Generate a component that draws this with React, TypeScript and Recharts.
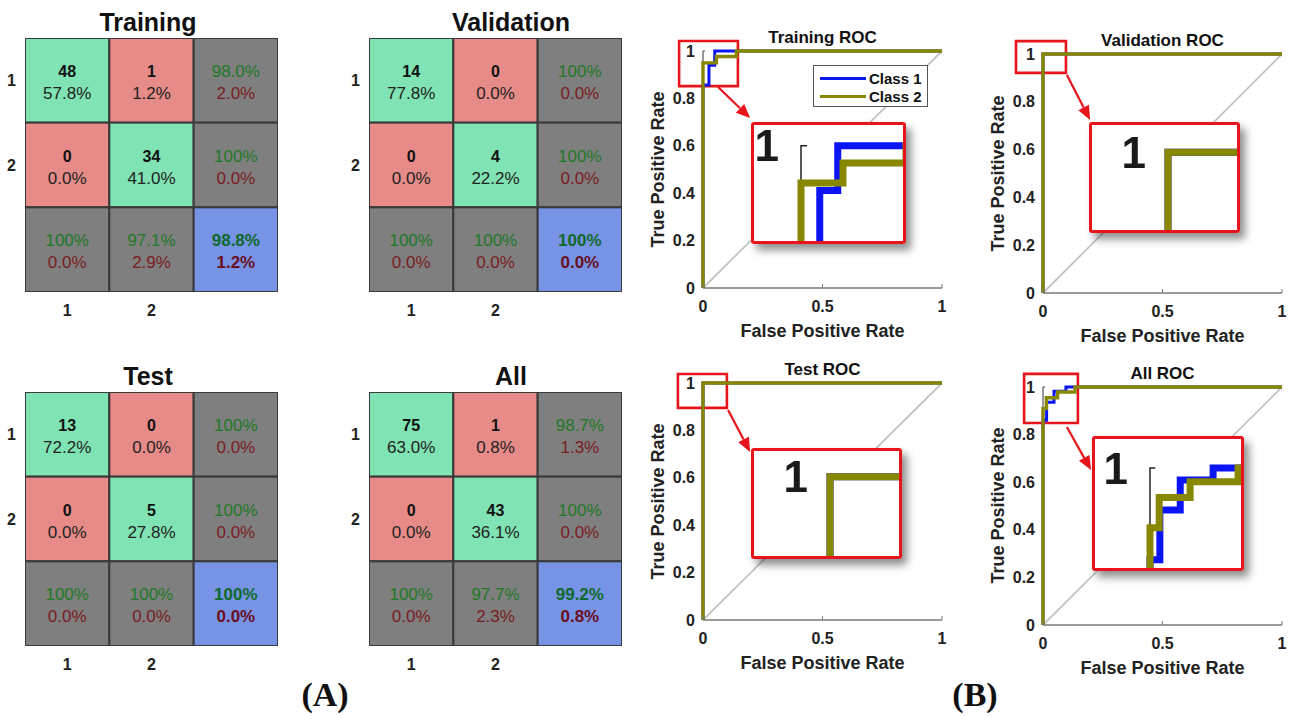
import React from "react";
import {
  ScatterChart,
  Scatter,
  XAxis,
  YAxis,
  LineChart,
  Line,
  ReferenceArea,
  ReferenceLine,
  Legend,
} from "recharts";

const FONT = "'Liberation Sans', Arial, Helvetica, sans-serif";
const SERIF = "'Liberation Serif', 'Times New Roman', serif";

// ---------- Confusion matrix data ----------
const classTicks = [1, 2];

const trainingCounts = [48, 1, 0, 34];
const trainingShares = ["57.8%", "1.2%", "0.0%", "41.0%"];
const trainingRowRates = ["98.0%", "100%"];
const trainingRowErrors = ["2.0%", "0.0%"];
const trainingColRates = ["100%", "97.1%"];
const trainingColErrors = ["0.0%", "2.9%"];
const trainingOverall = ["98.8%", "1.2%"];

const validationCounts = [14, 0, 0, 4];
const validationShares = ["77.8%", "0.0%", "0.0%", "22.2%"];
const validationRowRates = ["100%", "100%"];
const validationRowErrors = ["0.0%", "0.0%"];
const validationColRates = ["100%", "100%"];
const validationColErrors = ["0.0%", "0.0%"];
const validationOverall = ["100%", "0.0%"];

const testCounts = [13, 0, 0, 5];
const testShares = ["72.2%", "0.0%", "0.0%", "27.8%"];
const testRowRates = ["100%", "100%"];
const testRowErrors = ["0.0%", "0.0%"];
const testColRates = ["100%", "100%"];
const testColErrors = ["0.0%", "0.0%"];
const testOverall = ["100%", "0.0%"];

const allCounts = [75, 1, 0, 43];
const allShares = ["63.0%", "0.8%", "0.0%", "36.1%"];
const allRowRates = ["98.7%", "100%"];
const allRowErrors = ["1.3%", "0.0%"];
const allColRates = ["100%", "97.7%"];
const allColErrors = ["0.0%", "2.3%"];
const allOverall = ["99.2%", "0.8%"];

// ---------- ROC data ----------
const chanceLine = [
  { fpr: 0, tpr: 0 },
  { fpr: 1, tpr: 1 },
];
const axisBracket = [
  { fpr: 0.008, tpr: 1 },
  { fpr: 0, tpr: 1 },
  { fpr: 0, tpr: 0 },
];
const trainingClass1 = [
  { fpr: 0, tpr: 0 },
  { fpr: 0, tpr: 0.857 },
  { fpr: 0.025, tpr: 0.857 },
  { fpr: 0.025, tpr: 0.94 },
  { fpr: 0.049, tpr: 0.94 },
  { fpr: 0.049, tpr: 1 },
  { fpr: 1, tpr: 1 },
];
const trainingClass2 = [
  { fpr: 0, tpr: 0 },
  { fpr: 0, tpr: 0.95 },
  { fpr: 0.056, tpr: 0.95 },
  { fpr: 0.056, tpr: 0.977 },
  { fpr: 0.14, tpr: 0.977 },
  { fpr: 0.14, tpr: 1 },
  { fpr: 1, tpr: 1 },
];
const validationClass1 = [
  { fpr: 0, tpr: 0 },
  { fpr: 0, tpr: 1 },
  { fpr: 1, tpr: 1 },
];
const validationClass2 = [
  { fpr: 0, tpr: 0 },
  { fpr: 0, tpr: 1 },
  { fpr: 1, tpr: 1 },
];
const testClass1 = [
  { fpr: 0, tpr: 0 },
  { fpr: 0, tpr: 1 },
  { fpr: 1, tpr: 1 },
];
const testClass2 = [
  { fpr: 0, tpr: 0 },
  { fpr: 0, tpr: 1 },
  { fpr: 1, tpr: 1 },
];
const allClass1 = [
  { fpr: 0, tpr: 0 },
  { fpr: 0, tpr: 0.86 },
  { fpr: 0.015, tpr: 0.86 },
  { fpr: 0.015, tpr: 0.936 },
  { fpr: 0.046, tpr: 0.936 },
  { fpr: 0.046, tpr: 0.982 },
  { fpr: 0.096, tpr: 0.982 },
  { fpr: 0.096, tpr: 1 },
  { fpr: 1, tpr: 1 },
];
const allClass2 = [
  { fpr: 0, tpr: 0 },
  { fpr: 0, tpr: 0.909 },
  { fpr: 0.014, tpr: 0.909 },
  { fpr: 0.014, tpr: 0.955 },
  { fpr: 0.061, tpr: 0.955 },
  { fpr: 0.061, tpr: 0.979 },
  { fpr: 0.134, tpr: 0.979 },
  { fpr: 0.134, tpr: 1 },
  { fpr: 1, tpr: 1 },
];
const rocXTicks = [0, 0.5, 1];
const rocYTicks = [0, 0.2, 0.4, 0.6, 0.8, 1];

// ---------- colours ----------
const C_HIT = "#7fe3b3";
const C_MISS = "#e78b88";
const C_SUM = "#7f7f7f";
const C_TOTAL = "#7793e6";
const BLUE = "#0a14f5";
const OLIVE = "#878700";
const RED = "#e8141b";

type Cell = { col: number; row: number; kind: string; top: string; bottom: string };

function buildCells(
  counts: number[],
  shares: string[],
  rowRates: string[],
  rowErrors: string[],
  colRates: string[],
  colErrors: string[],
  overall: string[]
): Cell[] {
  const cells: Cell[] = [];
  for (let r = 0; r < 2; r++) {
    for (let c = 0; c < 2; c++) {
      const i = r * 2 + c;
      cells.push({ col: c + 1, row: r + 1, kind: r === c ? "hit" : "miss", top: String(counts[i]), bottom: shares[i] });
    }
  }
  for (let r = 0; r < 2; r++) cells.push({ col: 3, row: r + 1, kind: "sum", top: rowRates[r], bottom: rowErrors[r] });
  for (let c = 0; c < 2; c++) cells.push({ col: c + 1, row: 3, kind: "sum", top: colRates[c], bottom: colErrors[c] });
  cells.push({ col: 3, row: 3, kind: "total", top: overall[0], bottom: overall[1] });
  return cells;
}

const PLOT_W = 253;
const PLOT_H = 254;

function CellShape(props: any) {
  const { cx, cy, payload } = props;
  const w = PLOT_W / 3;
  const h = PLOT_H / 3;
  const kind = payload.kind;
  const fill = kind === "hit" ? C_HIT : kind === "miss" ? C_MISS : kind === "sum" ? C_SUM : C_TOTAL;
  const isCount = kind === "hit" || kind === "miss";
  const topColor = isCount ? "#111" : kind === "total" ? "#0e6a2a" : "#1e7a26";
  const botColor = isCount ? "#222" : kind === "total" ? "#6a0f1c" : "#7a1c22";
  return (
    <g>
      <rect x={cx - w / 2} y={cy - h / 2} width={w} height={h} fill={fill} stroke="#3a3a3a" strokeWidth={2} />
      <text
        x={cx}
        y={cy - 9}
        textAnchor="middle"
        dominantBaseline="central"
        fontFamily={FONT}
        fontSize={isCount ? 16 : 17}
        fontWeight={isCount || kind === "total" ? 700 : 400}
        fill={topColor}
      >
        {payload.top}
      </text>
      <text
        x={cx}
        y={cy + 13}
        textAnchor="middle"
        dominantBaseline="central"
        fontFamily={FONT}
        fontSize={17}
        fontWeight={kind === "total" ? 700 : 400}
        fill={botColor}
      >
        {payload.bottom}
      </text>
    </g>
  );
}

function Matrix(props: { left: number; top: number; title: string; titleX: number; titleY: number; cells: Cell[] }) {
  const { left, top, title, titleX, titleY, cells } = props;
  const axisTick = { fontSize: 16, fontWeight: 700, fill: "#222", fontFamily: FONT };
  return (
    <>
      <div
        style={{
          position: "absolute",
          left: titleX - 100,
          width: 200,
          top: titleY - 15,
          lineHeight: "30px",
          textAlign: "center",
          font: `bold 25px ${FONT}`,
          color: "#111",
        }}
      >
        {title}
      </div>
      <div style={{ position: "absolute", left, top }}>
        <ScatterChart width={290} height={292} margin={{ top: 8, right: 12, bottom: 0, left: 0 }}>
          <XAxis
            type="number"
            dataKey="col"
            domain={[0.5, 3.5]}
            allowDataOverflow
            ticks={classTicks}
            interval={0}
            axisLine={false}
            tickLine={false}
            tickSize={0}
            tickMargin={13}
            height={30}
            tick={axisTick}
          />
          <YAxis
            type="number"
            dataKey="row"
            domain={[0.5, 3.5]}
            allowDataOverflow
            reversed
            ticks={classTicks}
            interval={0}
            axisLine={false}
            tickLine={false}
            tickSize={0}
            tickMargin={9}
            width={25}
            tick={axisTick}
          />
          <Scatter data={cells} shape={(p: any) => <CellShape {...p} />} isAnimationActive={false} />
        </ScatterChart>
      </div>
    </>
  );
}

function arrowShape(props: any) {
  const { x1, y1, x2, y2 } = props;
  const dx = x2 - x1;
  const dy = y2 - y1;
  const len = Math.sqrt(dx * dx + dy * dy) || 1;
  const ux = dx / len;
  const uy = dy / len;
  const head = 14;
  const half = 6;
  const bx = x2 - ux * head;
  const by = y2 - uy * head;
  const px = -uy;
  const py = ux;
  return (
    <g>
      <line x1={x1} y1={y1} x2={bx} y2={by} stroke={RED} strokeWidth={2.2} />
      <polygon
        points={`${x2},${y2} ${bx + px * half},${by + py * half} ${bx - px * half},${by - py * half}`}
        fill={RED}
      />
    </g>
  );
}

function renderLegend(props: any) {
  const items = (props.payload || []).filter((p: any) => p.type !== "none");
  return (
    <div
      style={{
        width: 115,
        height: 42,
        boxSizing: "border-box",
        border: "1px solid #555",
        background: "#fff",
        padding: "3px 0 0 6px",
      }}
    >
      {items.map((it: any) => (
        <div key={it.value} style={{ display: "flex", alignItems: "center", height: 18 }}>
          <span style={{ display: "inline-block", width: 46, height: 3, background: it.color, marginRight: 3 }} />
          <span style={{ font: `bold 15px ${FONT}`, color: "#111" }}>{it.value}</span>
        </div>
      ))}
    </div>
  );
}

type InsetSpec = {
  left: number;
  top: number;
  width: number;
  height: number;
  gap: number;
  xMax: number;
  yMin: number;
  yMax: number;
};

const INSET_PAD = 0.02;

function Inset(props: { spec: InsetSpec; c1: any[]; c2: any[] }) {
  const { spec, c1, c2 } = props;
  const scale = (spec.width - spec.gap) / spec.xMax;
  const padPx = INSET_PAD * scale;
  const axisWidth = spec.gap - padPx;
  return (
    <div
      style={{
        position: "absolute",
        left: spec.left,
        top: spec.top,
        width: spec.width,
        height: spec.height,
        background: "#fff",
        borderRadius: 3,
        boxShadow: "5px 6px 8px rgba(0,0,0,0.45)",
      }}
    >
      <div style={{ position: "absolute", left: 0, top: 0, filter: "blur(0.5px)" }}>
        <LineChart width={spec.width} height={spec.height} margin={{ top: 0, right: 0, bottom: 0, left: 0 }}>
          <XAxis type="number" dataKey="fpr" domain={[-INSET_PAD, spec.xMax]} allowDataOverflow hide />
          <YAxis
            type="number"
            dataKey="tpr"
            domain={[spec.yMin, spec.yMax]}
            allowDataOverflow
            ticks={[1]}
            interval={0}
            width={axisWidth}
            axisLine={false}
            tickLine={false}
            tickSize={0}
            tickMargin={22 - padPx}
            tick={{ fontSize: 44, fontWeight: 700, fill: "#1a1a1a", fontFamily: FONT }}
          />
          <Line data={axisBracket} dataKey="tpr" stroke="#222" strokeWidth={1.5} dot={false} isAnimationActive={false} />
          <Line data={c1} dataKey="tpr" stroke={BLUE} strokeWidth={7} dot={false} isAnimationActive={false} />
          <Line data={c2} dataKey="tpr" stroke={OLIVE} strokeWidth={7} dot={false} isAnimationActive={false} />
        </LineChart>
      </div>
      <div
        style={{
          position: "absolute",
          left: 0,
          top: 0,
          right: 0,
          bottom: 0,
          border: `3px solid ${RED}`,
          borderRadius: 3,
        }}
      />
    </div>
  );
}

type RocProps = {
  x0: number;
  yTop: number;
  yBottom: number;
  title: string;
  c1: any[];
  c2: any[];
  zoom: number[]; // x1, x2, y1, y2 in data units
  arrow: number[]; // fx, fy, tx, ty in data units
  inset: InsetSpec;
  legend?: boolean;
};

function Roc(p: RocProps) {
  const plotW = 239;
  const plotH = p.yBottom - p.yTop;
  const left = p.x0 - 50;
  const top = p.yTop - 20;
  const tick = { fontSize: 16, fontWeight: 700, fill: "#222", fontFamily: FONT };
  const cx = p.x0 + plotW / 2;
  return (
    <>
      <div
        style={{
          position: "absolute",
          left: cx - 100,
          width: 200,
          top: p.yTop - 23,
          lineHeight: "20px",
          textAlign: "center",
          font: `bold 17px ${FONT}`,
          color: "#111",
        }}
      >
        {p.title}
      </div>
      <div
        style={{
          position: "absolute",
          left: cx - 120,
          width: 240,
          top: p.yBottom + 33,
          lineHeight: "22px",
          textAlign: "center",
          font: `bold 18px ${FONT}`,
          color: "#222",
        }}
      >
        False Positive Rate
      </div>
      <div
        style={{
          position: "absolute",
          left: p.x0 - 45 - 120,
          top: (p.yTop + p.yBottom) / 2 - 11,
          width: 240,
          lineHeight: "22px",
          textAlign: "center",
          font: `bold 18px ${FONT}`,
          color: "#222",
          transform: "rotate(-90deg)",
        }}
      >
        True Positive Rate
      </div>
      <div style={{ position: "absolute", left, top }}>
        <LineChart width={50 + plotW + 15} height={20 + plotH + 30} margin={{ top: 20, right: 15, bottom: 0, left: 0 }}>
          <XAxis
            type="number"
            dataKey="fpr"
            domain={[0, 1]}
            ticks={rocXTicks}
            interval={0}
            height={30}
            axisLine={{ stroke: "#7a7a7a", strokeWidth: 1.5 }}
            tickLine={{ stroke: "#7a7a7a" }}
            tickSize={-4}
            tickMargin={17}
            tick={tick}
          />
          <YAxis
            type="number"
            dataKey="tpr"
            domain={[0, 1]}
            ticks={rocYTicks}
            interval={0}
            width={50}
            axisLine={false}
            tickLine={false}
            tickSize={0}
            tickMargin={8}
            tick={tick}
          />
          <Line
            data={chanceLine}
            dataKey="tpr"
            stroke="#c4c4c4"
            strokeWidth={1.8}
            dot={false}
            legendType="none"
            isAnimationActive={false}
          />
          <Line
            data={axisBracket}
            dataKey="tpr"
            stroke="#333"
            strokeWidth={1}
            dot={false}
            legendType="none"
            isAnimationActive={false}
          />
          <Line data={p.c1} dataKey="tpr" name="Class 1" stroke={BLUE} strokeWidth={3} dot={false} isAnimationActive={false} />
          <Line data={p.c2} dataKey="tpr" name="Class 2" stroke={OLIVE} strokeWidth={3.4} dot={false} isAnimationActive={false} />
          <ReferenceArea
            x1={p.zoom[0]}
            x2={p.zoom[1]}
            y1={p.zoom[2]}
            y2={p.zoom[3]}
            ifOverflow="visible"
            fill="none"
            fillOpacity={0}
            stroke={RED}
            strokeWidth={2.6}
          />
          <ReferenceLine
            segment={[
              { x: p.arrow[0], y: p.arrow[1] },
              { x: p.arrow[2], y: p.arrow[3] },
            ]}
            ifOverflow="visible"
            shape={arrowShape}
          />
          {p.legend ? (
            <Legend
              layout="vertical"
              align="center"
              verticalAlign="middle"
              content={renderLegend}
              wrapperStyle={{ left: 160, top: 34, width: 115 }}
            />
          ) : null}
        </LineChart>
      </div>
      <Inset spec={p.inset} c1={p.c1} c2={p.c2} />
    </>
  );
}

export default function App() {
  const trainingCells = buildCells(trainingCounts, trainingShares, trainingRowRates, trainingRowErrors, trainingColRates, trainingColErrors, trainingOverall);
  const validationCells = buildCells(validationCounts, validationShares, validationRowRates, validationRowErrors, validationColRates, validationColErrors, validationOverall);
  const testCells = buildCells(testCounts, testShares, testRowRates, testRowErrors, testColRates, testColErrors, testOverall);
  const allCells = buildCells(allCounts, allShares, allRowRates, allRowErrors, allColRates, allColErrors, allOverall);

  return (
    <div
      style={{
        position: "absolute",
        left: 0,
        top: 0,
        width: 1291,
        height: 716,
        background: "#fff",
        overflow: "hidden",
        fontFamily: FONT,
      }}
    >
      <Matrix left={0} top={30} title="Training" titleX={148} titleY={23} cells={trainingCells} />
      <Matrix left={344} top={30} title="Validation" titleX={511} titleY={23} cells={validationCells} />
      <Matrix left={0} top={384} title="Test" titleX={148} titleY={377} cells={testCells} />
      <Matrix left={344} top={384} title="All" titleX={511} titleY={377} cells={allCells} />

      <Roc
        x0={703}
        yTop={51}
        yBottom={288}
        title="Training ROC"
        c1={trainingClass1}
        c2={trainingClass2}
        zoom={[-0.1, 0.146, 0.852, 1.042]}
        arrow={[0.063, 0.848, 0.197, 0.717]}
        inset={{ left: 751, top: 122, width: 155, height: 122, gap: 50, xMax: 0.14, yMin: 0.868, yMax: 1.032 }}
        legend
      />
      <Roc
        x0={1043}
        yTop={54}
        yBottom={293}
        title="Validation ROC"
        c1={validationClass1}
        c2={validationClass2}
        zoom={[-0.113, 0.096, 0.921, 1.054]}
        arrow={[0.1, 0.912, 0.197, 0.724]}
        inset={{ left: 1089, top: 122, width: 151, height: 111, gap: 79, xMax: 0.097, yMin: 0.891, yMax: 1.041 }}
      />
      <Roc
        x0={703}
        yTop={383}
        yBottom={620}
        title="Test ROC"
        c1={testClass1}
        c2={testClass2}
        zoom={[-0.105, 0.1, 0.895, 1.038]}
        arrow={[0.105, 0.886, 0.197, 0.709]}
        inset={{ left: 751, top: 448, width: 151, height: 111, gap: 79, xMax: 0.097, yMin: 0.889, yMax: 1.039 }}
      />
      <Roc
        x0={1043}
        yTop={387}
        yBottom={625}
        title="All ROC"
        c1={allClass1}
        c2={allClass2}
        zoom={[-0.079, 0.146, 0.849, 1.055]}
        arrow={[0.1, 0.832, 0.201, 0.651]}
        inset={{ left: 1092, top: 436, width: 152, height: 135, gap: 58, xMax: 0.143, yMin: 0.843, yMax: 1.049 }}
      />

      <div
        style={{
          position: "absolute",
          left: 265,
          width: 120,
          top: 676,
          lineHeight: "38px",
          textAlign: "center",
          font: `bold 34px ${SERIF}`,
          color: "#111",
        }}
      >
        (A)
      </div>
      <div
        style={{
          position: "absolute",
          left: 915,
          width: 120,
          top: 676,
          lineHeight: "38px",
          textAlign: "center",
          font: `bold 34px ${SERIF}`,
          color: "#111",
        }}
      >
        (B)
      </div>
    </div>
  );
}
